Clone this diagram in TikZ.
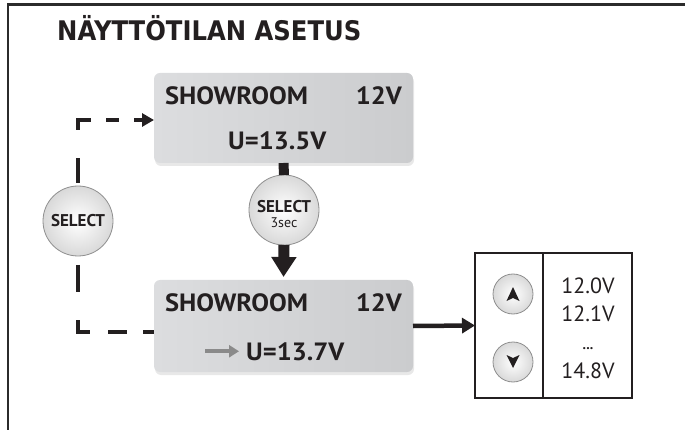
\documentclass[tikz,border=0pt]{standalone}
\usepackage{fontspec}
\setmainfont{PT Sans}
\newfontfamily\titlefont{DejaVu Sans}
\usetikzlibrary{arrows.meta,shadows,calc}
\definecolor{boxL}{HTML}{DCDDDF}
\definecolor{boxR}{HTML}{CBCCCE}
\definecolor{frameC}{HTML}{2B2B2B}
\definecolor{ink}{HTML}{231F20}
\definecolor{btnedge}{HTML}{8E8E8E}
\definecolor{grayarrow}{HTML}{8A8A8A}
\newcommand\widetext[1]{\scalebox{1.06}[1]{#1}}
\tikzset{
  lcd/.style={rounded corners=6pt, left color=boxL, right color=boxR, draw=none,
    drop shadow={opacity=0.18, shadow xshift=1pt, shadow yshift=-3pt},
    minimum width=259pt, inner sep=0pt, outer sep=0pt},
  lcdtext/.style={inner sep=0pt, text=ink, font=\bfseries\fontsize{25}{29}\selectfont},
  btn/.style={circle, draw=btnedge, line width=0.8pt, inner color=white, outer color=gray!30,
    inner sep=0pt, outer sep=0pt, text=ink},
  conn/.style={draw=ink, line width=4.5pt, line cap=butt, line join=miter},
  rtext/.style={inner sep=0pt, text=ink, font=\fontsize{22}{26}\selectfont},
}
\begin{document}
\begin{tikzpicture}[x=1pt,y=-1pt]
\useasboundingbox (0,0) rectangle (685,430);
% frame
\draw[frameC, line width=2.7pt] (8,430) -- (8,4.7) -- (685,4.7);
% title
\node[anchor=base west, inner sep=0pt, text=ink, font=\titlefont\bfseries\fontsize{27}{30}\selectfont] (title) at (57,41) {\scalebox{0.9}[1]{NÄYTTÖTILAN ASETUS}};
% boxes
\node[lcd, minimum height=90pt] (b1) at (283.5,118) {};
\node[lcd, minimum height=92pt] (b2) at (283.5,326) {};
\node[lcdtext, anchor=base west] (s1) at (165,105) {\widetext{SHOWROOM}};
\node[lcdtext, anchor=base east] (v1) at (402,105) {\widetext{12V}};
\node[lcdtext, anchor=base west] (u1) at (228,150) {\widetext{U=13.5V}};
\node[lcdtext, anchor=base west] (s2) at (165,311) {\widetext{SHOWROOM}};
\node[lcdtext, anchor=base east] (v2) at (402,311) {\widetext{12V}};
\node[lcdtext, anchor=base west] (u2) at (246,360) {\widetext{U=13.7V}};
\draw[grayarrow, line width=4pt, -{Triangle[length=10pt,width=12pt]}] ([xshift=-41pt]u2.west) -- ([xshift=-7pt]u2.west);
% select buttons
\coordinate (c1) at (78,120);
\coordinate (c2) at (78,332);
\node[btn, minimum size=70pt] (sel) at (78,221) {\bfseries\fontsize{17}{17}\selectfont SELECT};
\node[btn, minimum size=70pt] (sel3) at (284,210) {};
\node[inner sep=0pt, anchor=base, text=ink, font=\bfseries\fontsize{17}{17}\selectfont] (sel3a) at (284,213) {SELECT};
\node[inner sep=0pt, anchor=base, text=ink, font=\fontsize{14}{14}\selectfont] (sel3b) at (284,228) {3sec};
% dashed loop
\draw[conn, -{Triangle[length=12pt,width=13pt]}, dash pattern=on 25pt off 28pt on 23pt off 15pt on 13pt off 15pt on 40pt off 1pt] ([yshift=3pt]sel.north) -- (c1) -- (b1.west |- c1);
\draw[conn, dash pattern=on 27pt off 28pt on 24pt off 18pt on 19pt off 16pt on 20pt off 1pt] ([yshift=-9pt]sel.south) -- (c2) -- (b2.west |- c2);
% middle flow
\draw[ink, line width=10pt] (b1.south) -- (sel3.north);
\draw[ink, line width=11pt, shorten >=3pt, -{Triangle[length=20pt,width=24pt]}] (sel3.south) -- (b2.north);
% right box
\node[draw=ink, line width=2pt, minimum width=157pt, minimum height=145pt, inner sep=0pt, outer sep=0pt] (rb) at (553.5,325.5) {};
\draw[ink, line width=1.2pt] ($(rb.north west)+(68,0)$) -- ($(rb.south west)+(68,0)$);
\draw[ink, line width=4.5pt, -{Triangle[length=13pt,width=15pt]}] (b2.east) -- (rb.west);
\node[btn, minimum size=40pt] (up) at (513,294) {};
\node[btn, minimum size=40pt] (dn) at (513,362) {};
\fill[ink] ($(up)+(0,-7)$) -- ($(up)+(6.5,7)$) -- ($(up)+(0,4)$) -- ($(up)+(-6.5,7)$) -- cycle;
\fill[ink] ($(dn)+(0,6)$) -- ($(dn)+(6.5,-7)$) -- ($(dn)+(0,-4)$) -- ($(dn)+(-6.5,-7)$) -- cycle;
\node[rtext, anchor=base] (t1) at (588,293) {12.0V};
\node[rtext, anchor=base] (t2) at (588,321) {12.1V};
\node[rtext, anchor=base, font=\bfseries\fontsize{14}{14}\selectfont] (t3) at (588,349) {...};
\node[rtext, anchor=base] (t4) at (588,378) {14.8V};
\end{tikzpicture}
\end{document}
